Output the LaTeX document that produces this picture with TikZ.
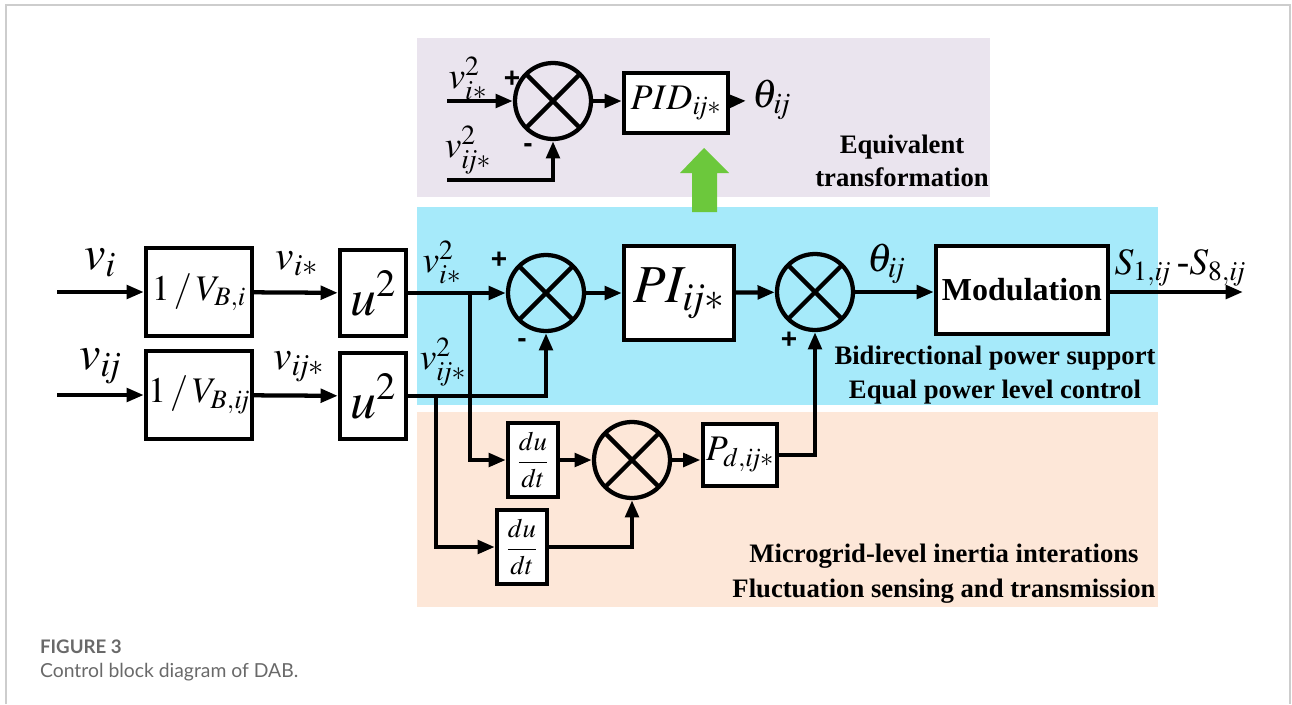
\documentclass[tikz,border=0pt]{standalone}
\usepackage{mathptmx}
\usepackage[no-math]{fontspec}
\setmainfont{Liberation Serif}
\newfontfamily\capfont{Lato}
\newfontfamily\signfont{Liberation Sans}
\usetikzlibrary{arrows.meta}
\definecolor{purpbg}{RGB}{234,228,238}
\definecolor{cyanbg}{RGB}{166,234,250}
\definecolor{peachbg}{RGB}{253,231,216}
\definecolor{arrgreen}{RGB}{108,200,60}
\definecolor{framegray}{RGB}{205,205,205}
\definecolor{capgray}{RGB}{105,105,105}
\tikzset{
  blk/.style={draw, line width=3.2pt, fill=white, inner sep=0pt},
  sumj/.style={draw, circle, line width=3.2pt, minimum size=57pt, inner sep=0pt,
    path picture={\draw[line width=3.2pt] (path picture bounding box.north west) -- (path picture bounding box.south east)
      (path picture bounding box.south west) -- (path picture bounding box.north east);}},
  sgn/.style={font=\signfont\bfseries\fontsize{21}{21}\selectfont},
  regtxt/.style={font=\bfseries\fontsize{20}{25}\selectfont, align=center}
}
\begin{document}
\begin{tikzpicture}[x=0.75pt, y=-0.75pt, >={Triangle[length=13pt,width=10pt]}, line width=3.2pt]
\useasboundingbox (0,0) rectangle (1292,704);
% Hintergrund
\fill[purpbg] (417,38) rectangle (990,197);
\fill[cyanbg] (417,207) rectangle (1158,405);
\fill[peachbg] (417,412) rectangle (1158,607);
\draw[framegray, line width=1.5pt] (6,704) -- (6,5) -- (1290,5) -- (1290,704);

% Hauptpfad
\node[blk, minimum width=79.5pt, minimum height=66pt, font=\fontsize{27}{30}\selectfont] (norm1) at (199,292) {$1\,/\,V_{B,i}$};
\node[blk, minimum width=79.5pt, minimum height=66pt, font=\fontsize{27}{30}\selectfont] (norm2) at (199,395) {$1\,/\,V_{B,\mathit{ij}}$};
\node[blk, minimum width=49.5pt, minimum height=64.5pt, font=\fontsize{39}{40}\selectfont] (sq1) at (373,293) {$u^2$};
\node[blk, minimum width=49.5pt, minimum height=64.5pt, font=\fontsize{39}{40}\selectfont] (sq2) at (373,396) {$u^2$};
\node[sumj] (sum1) at (546,293) {};
\node[blk, minimum width=82.5pt, minimum height=70pt, font=\fontsize{40}{42}\selectfont] (pi) at (679,293) {$PI_{\mathit{ij}*}$};
\node[sumj] (sum2) at (815,292) {};
\node[blk, minimum width=129pt, minimum height=66pt, font=\bfseries\fontsize{24}{26}\selectfont] (mod) at (1022,290) {Modulation};
\coordinate (out) at (1243,292);

% Eingaenge
\coordinate (in1) at (57,292);
\coordinate (in2) at (57,395);
\node[font=\fontsize{36}{38}\selectfont] (lvi) at (100,263) {$v_i$};
\node[font=\fontsize{36}{38}\selectfont] (lvij) at (100,366) {$v_{\mathit{ij}}$};
\node[font=\fontsize{31}{33}\selectfont] (lvis) at (297,264) {$v_{i*}$};
\node[font=\fontsize{31}{33}\selectfont] (lvijs) at (299,367) {$v_{\mathit{ij}*}$};
\node[font=\fontsize{28}{30}\selectfont] (lvis2) at (442,262) {$v_{i*}^2$};
\node[font=\fontsize{28}{30}\selectfont] (lvijs2) at (443,362) {$v_{\mathit{ij}*}^2$};
\node[font=\fontsize{30}{32}\selectfont] (lth) at (886,264) {$\theta_{\mathit{ij}}$};
\node[font=\fontsize{28}{30}\selectfont] (ls) at (1180,268) {$S_{1,\mathit{ij}}$\,-$S_{8,\mathit{ij}}$};
\node[sgn] (p1) at (499,260) {+};
\node[sgn] (m1) at (522,343) {-};
\node[sgn] (p2) at (789,340) {+};

\draw[->] (in1) -- (norm1);
\draw[->] (in2) -- (norm2);
\draw[->] (norm1) -- (sq1);
\draw[->] (norm2) -- (sq2);
\draw[->] (sq1) -- (sum1);
\draw[->] (sq2.east) -| (sum1.south);
\draw[->] (sum1) -- (pi);
\draw[->] (pi) -- (sum2);
\draw[->] (sum2) -- (sum2 -| mod.west);
\draw[->] (sum2 -| mod.east) -- (out);

% Traegheitszweig
\node[blk, minimum width=37.5pt, minimum height=55.5pt, font=\fontsize{20}{22}\selectfont] (ddt1) at (533,460) {$\displaystyle\frac{du}{dt}$};
\node[blk, minimum width=37.5pt, minimum height=55.5pt, font=\fontsize{20}{22}\selectfont] (ddt2) at (522,547) {$\displaystyle\frac{du}{dt}$};
\node[sumj] (sum3) at (632,460) {};
\node[blk, minimum width=56pt, minimum height=47pt, font=\fontsize{27}{29}\selectfont] (pd) at (740,455) {$P_{d,\mathit{ij}*}$};
\coordinate (br1) at (470,293);
\coordinate (br2) at (436,395);
\draw[->] (br1) |- (ddt1);
\draw[->] (br2) |- (ddt2);
\draw[->] (ddt1) -- (sum3);
\draw[->] (ddt2) -| (sum3);
\draw[->] (sum3) -- (sum3 -| pd.west);
\draw[->] (pd.east) -| (sum2);

% Aequivalente Form
\node[sumj] (sum4) at (553,101) {};
\node[blk, minimum width=78pt, minimum height=45pt, font=\fontsize{27}{29}\selectfont] (pid) at (676,103) {$PID_{\mathit{ij}*}$};
\node[font=\fontsize{30}{32}\selectfont, anchor=west] (lth2) at (746,100) {$\theta_{\mathit{ij}}$};
\coordinate (in3) at (447,101);
\coordinate (in4) at (447,180);
\node[font=\fontsize{28}{30}\selectfont] (lvis3) at (468,78) {$v_{i*}^2$};
\node[font=\fontsize{28}{30}\selectfont] (lvijs3) at (468,150) {$v_{\mathit{ij}*}^2$};
\node[sgn] (p3) at (512,79) {+};
\node[sgn] (m3) at (528,148) {-};
\draw[->] (in3) -- (sum4);
\draw[->] (in4) -| (sum4);
\draw[->] (sum4) -- (sum4 -| pid.west);
\draw[->] (pid) -- (lth2);
\fill[arrgreen] (692,212) -- (692,173) -- (680,173) -- (704,148) -- (729,173) -- (717,173) -- (717,212) -- cycle;

% Beschriftung
\node[regtxt] (teq) at (902,161) {Equivalent\\transformation};
\node[regtxt] (tbid) at (995,375) {Bidirectional power support\\Equal power level control};
\node[regtxt, font=\bfseries\fontsize{20}{26}\selectfont] (tmic) at (944,574) {Microgrid-level inertia interations\\Fluctuation sensing and transmission};
\node[anchor=base west, text=capgray, font=\capfont\bfseries\fontsize{14}{16}\selectfont, inner sep=0pt] (fig) at (38,653) {FIGURE 3};
\node[anchor=base west, text=capgray, font=\capfont\fontsize{14.5}{16}\selectfont, inner sep=0pt] (cap) at (38,677) {Control block diagram of DAB.};
\end{tikzpicture}
\end{document}
